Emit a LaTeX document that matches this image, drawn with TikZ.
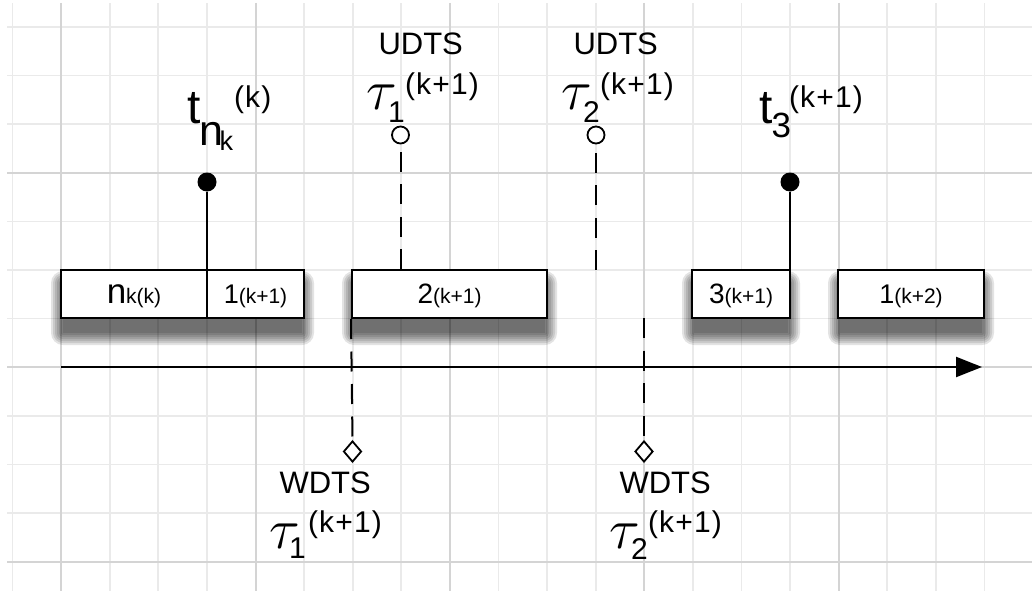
\RequirePackage{fix-cm}
\documentclass[tikz,border=0pt]{standalone}
\usepackage{fontspec}
\setmainfont{Liberation Sans}
\newfontfamily\supfamily{Liberation Sans}[LetterSpace=4]
\usetikzlibrary{arrows.meta,shapes.geometric,backgrounds}
\newcommand{\fsz}[1]{\fontsize{#1}{#1}\selectfont}
\definecolor{gridlight}{HTML}{EAEAEA}
\definecolor{griddark}{HTML}{D4D4D4}

\begin{document}
\begin{tikzpicture}[x=1pt,y=-1pt,
  gridminor/.style={draw=gridlight,line width=1.7pt},
  gridmajor/.style={draw=griddark,line width=2pt},
  slot/.style={draw,fill=white,line width=2pt,minimum height=48pt,inner sep=0pt,
    text height=22pt,text depth=4pt},
  shadowlayer/.style={fill=black,opacity=0.11},
  lbl/.style={anchor=base west,inner sep=0pt,outer sep=0pt},
  suplbl/.style={lbl,font=\supfamily\fsz{30}},
  fulldot/.style={circle,fill=black,minimum size=19pt,inner sep=0pt},
  opendot/.style={circle,draw,fill=white,line width=1.8pt,minimum size=17pt,inner sep=0pt},
  opendiamond/.style={diamond,draw,fill=white,line width=1.8pt,minimum width=18pt,
    minimum height=21pt,inner sep=0pt},
  stem/.style={line width=2pt},
  dashstem/.style={line width=2pt,dash pattern=on 20pt off 12.5pt},
  axis/.style={line width=2.2pt,-{Triangle[length=26pt,width=20pt]}}]

\useasboundingbox (0,0) rectangle (1032,591);

% ---- slots of the schedule ----
\node[slot,minimum width=146pt] (sA) at (134,294)
  {{\fsz{35}n}{\fsz{21}k(k)}};
\node[slot,minimum width=97pt] (sB) at (255.5,294)
  {{\fsz{27}1}{\fsz{21}(k+1)}};
\node[slot,minimum width=195pt] (sC) at (449.5,294)
  {{\fsz{28}2}{\fsz{21}(k+1)}};
\node[slot,minimum width=98pt] (sD) at (741,294)
  {{\fsz{28}3}{\fsz{21}(k+1)}};
\node[slot,minimum width=146pt] (sE) at (911,294)
  {{\fsz{27}1}{\fsz{21}(k+2)}};

% ---- grid and soft drop shadows behind everything ----
\begin{scope}[on background layer]
  \foreach \i in {0,...,20}
    \draw[gridminor] ({12.5+48.6*\i},3) -- ({12.5+48.6*\i},591);
  \foreach \j in {0,...,11}
    \draw[gridminor] (7,{27+48.6*\j}) -- (1032,{27+48.6*\j});
  \foreach \i in {1,5,9,13,17}
    \draw[gridmajor] ({12.5+48.6*\i},3) -- ({12.5+48.6*\i},591);
  \foreach \j in {3,7,11}
    \draw[gridmajor] (7,{27+48.6*\j}) -- (1032,{27+48.6*\j});
  \foreach \a/\b in {sA/sB,sC/sC,sD/sD,sE/sE}
    \foreach \e in {0,2,...,12}
      \fill[shadowlayer,rounded corners=\e pt]
        ([shift={(3-\e,14-\e)}]\a.north west) rectangle ([shift={(\e-3,14+\e)}]\b.south east);
\end{scope}

% ---- time axis ----
\coordinate (ax0) at (61,367);
\coordinate (ax1) at (982,367);
\draw[axis] (ax0) -- (ax1);

% ---- markers ----
\node[fulldot] (pA) at (207,182) {};
\node[fulldot] (pD) at (790,182) {};
\node[opendot] (u1) at (400.5,135) {};
\node[opendot] (u2) at (596,135) {};
\node[opendiamond] (w1) at (352.5,451.5) {};
\node[opendiamond] (w2) at (644,451.5) {};

\coordinate (u2foot) at (596,270);
\coordinate (w2head) at (644,318);

\draw[stem] (pA) -- (pA |- sA.north);
\draw[stem] (pD) -- (pD |- sD.north);
\draw[dashstem] (u1 |- sC.north) -- (u1.south);
\draw[dashstem] (u2foot) -- (u2.south);
\draw[dashstem] (sC.south west) -- (w1.north);
\draw[dashstem] (w2head) -- (w2.north);

% ---- labels: t_{n_k}^{(k)} ----
\node[lbl,font=\fsz{48}] (tA) at (187,124) {t};
\node[lbl,font=\fsz{43}] (tAn) at (199.5,145) {n};
\node[lbl,font=\fsz{27}] (tAk) at (219.5,150) {k};
\node[suplbl] (tAs) at (234,108) {(k)};

% ---- labels: t_3^{(k+1)} ----
\node[lbl,font=\fsz{48}] (tD) at (759,124) {t};
\node[lbl,font=\fsz{35}] (tDn) at (771.5,137) {3};
\node[suplbl] (tDs) at (789,108) {(k+1)};

% ---- labels: UDTS tau_1 ----
\node[lbl,font=\fsz{31}] (uT1) at (378.5,55) {UDTS};
\node[lbl,font=\fsz{57}] (uG1) at (366,110) {$\tau$};
\node[lbl,font=\fsz{30}] (uN1) at (388,122) {1};
\node[suplbl] (uS1) at (405,95) {(k+1)};

% ---- labels: UDTS tau_2 ----
\node[lbl,font=\fsz{31}] (uT2) at (573.5,55) {UDTS};
\node[lbl,font=\fsz{57}] (uG2) at (561,110) {$\tau$};
\node[lbl,font=\fsz{30}] (uN2) at (583,122) {2};
\node[suplbl] (uS2) at (600,95) {(k+1)};

% ---- labels: WDTS tau_1 ----
\node[lbl,font=\fsz{31}] (wT1) at (279.5,493) {WDTS};
\node[lbl,font=\fsz{57}] (wG1) at (269,548) {$\tau$};
\node[lbl,font=\fsz{30}] (wN1) at (289,558) {1};
\node[suplbl] (wS1) at (308,532) {(k+1)};

% ---- labels: WDTS tau_2 ----
\node[lbl,font=\fsz{31}] (wT2) at (619.5,493) {WDTS};
\node[lbl,font=\fsz{57}] (wG2) at (609,548) {$\tau$};
\node[lbl,font=\fsz{30}] (wN2) at (631,559) {2};
\node[suplbl] (wS2) at (648,532) {(k+1)};

\end{tikzpicture}
\end{document}
